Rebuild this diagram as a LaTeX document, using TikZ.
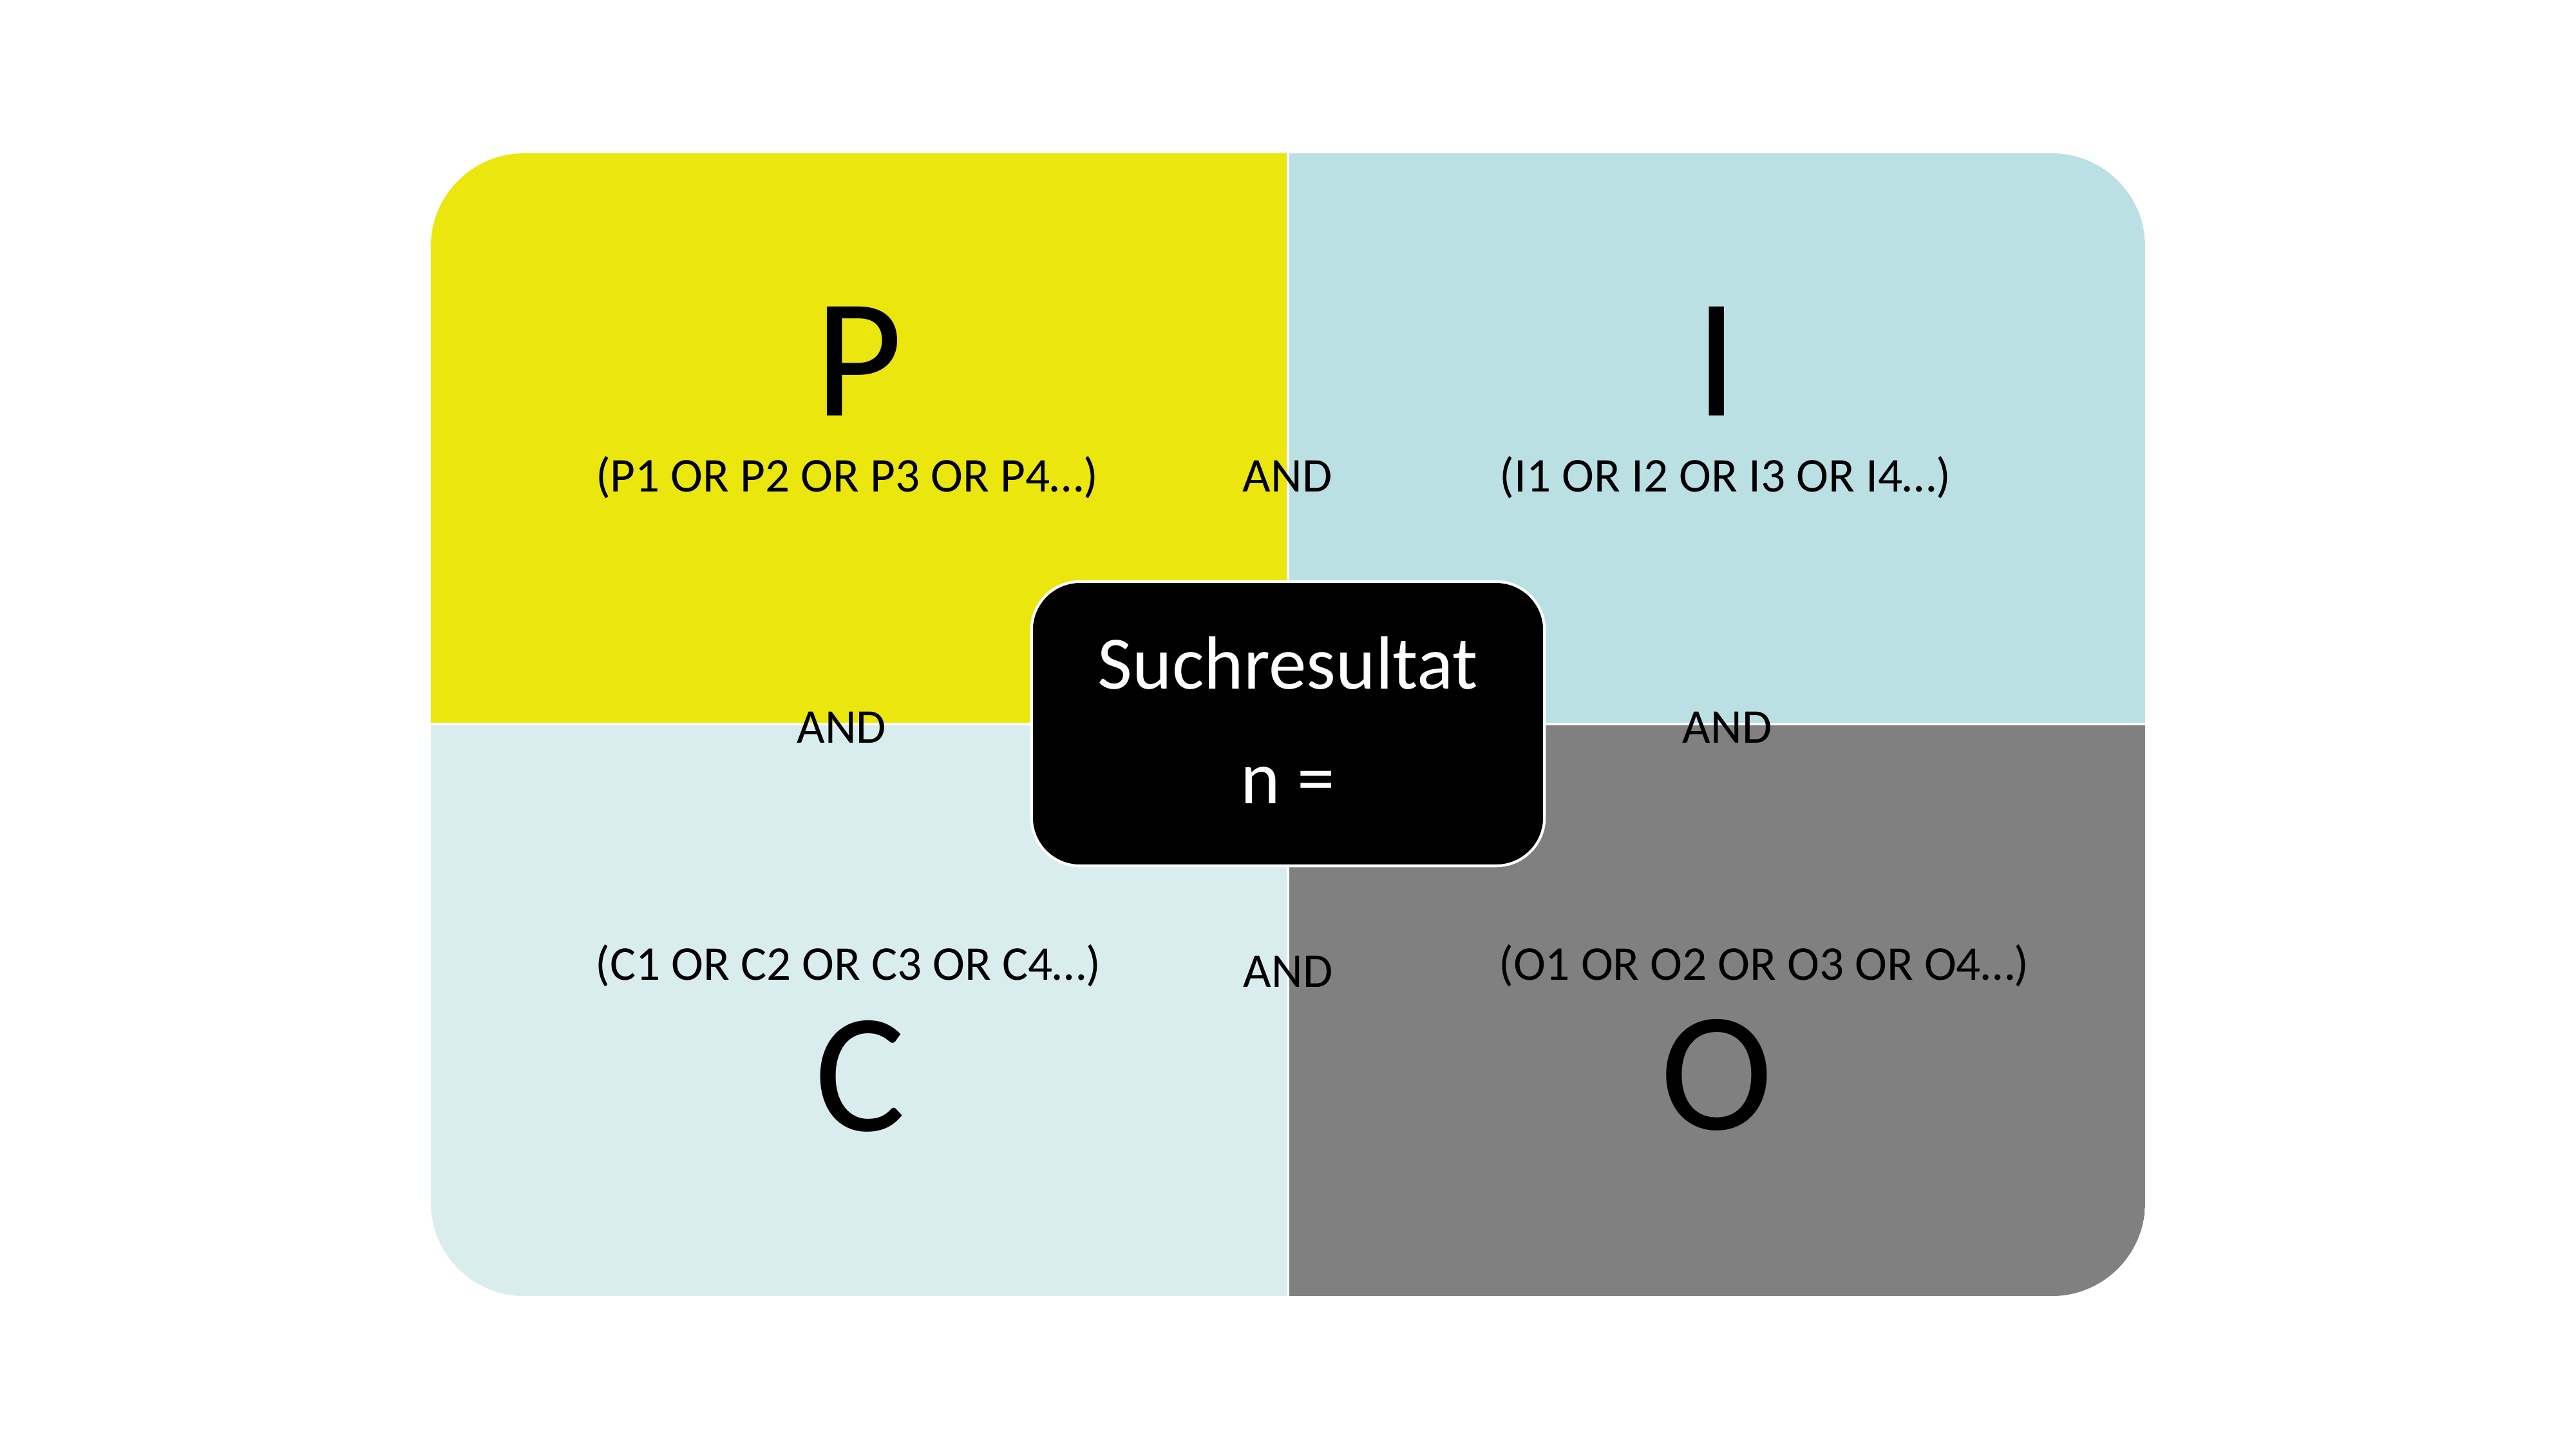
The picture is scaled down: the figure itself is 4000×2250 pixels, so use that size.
\documentclass[tikz,border=0pt]{standalone}
\usepackage{fontspec}
\setmainfont{Carlito}
\definecolor{pyellow}{RGB}{234,230,14}
\definecolor{iblue}{RGB}{186,224,227}
\definecolor{cblue}{RGB}{218,237,238}
\definecolor{ogray}{RGB}{128,128,128}
\tikzset{
  bigletter/.style={anchor=base,inner sep=0pt,font=\fontsize{75}{80}\selectfont},
  ortext/.style={anchor=base,inner sep=0pt,font=\fontsize{21.4}{24}\selectfont},
  restext/.style={anchor=base,inner sep=0pt,text=white,font=\fontsize{33.3}{38}\selectfont},
  divider/.style={white,line width=1.1pt}
}
\begin{document}
\begin{tikzpicture}[x=0.01cm,y=-0.01cm]
\useasboundingbox[fill=white] (0,0) rectangle (4000,2250);
\begin{scope}
  \clip[rounded corners=1.45cm] (669,238) rectangle (3331,2012);
  \fill[pyellow] (669,238) rectangle (2000,1124);
  \fill[iblue] (2000,238) rectangle (3331,1124);
  \fill[cblue] (669,1124) rectangle (2000,2012);
  \fill[ogray] (2000,1124) rectangle (3331,2012);
\end{scope}
\coordinate (vtop) at (2000,238);
\coordinate (vbot) at (2000,2012);
\coordinate (hleft) at (669,1124);
\coordinate (hright) at (3331,1124);
\draw[divider] (vtop) -- (vbot);
\draw[divider] (hleft) -- (hright);

\node[bigletter] (P) at (1334,645) {P};
\node[bigletter] (I) at (2666,645) {I};
\node[bigletter] (C) at (1336,1755) {C};
\node[bigletter] (O) at (2666,1753) {O};

\node[ortext] (Pt) at (1315,763) {(P1 OR P2 OR P3 OR P4…)};
\node[ortext] (It) at (2679,763) {(I1 OR I2 OR I3 OR I4…)};
\node[ortext] (Ct) at (1317,1521) {(C1 OR C2 OR C3 OR C4…)};
\node[ortext] (Ot) at (2739,1521) {(O1 OR O2 OR O3 OR O4…)};

\node[ortext] (and1) at (1999,763) {AND};
\node[ortext] (and2) at (1307,1153) {AND};
\node[ortext] (and3) at (2682,1153) {AND};
\node[ortext] (and4) at (2000,1532) {AND};

\node[draw=white,fill=black,line width=1.2pt,rounded corners=0.75cm,
      minimum width=7.96cm,minimum height=4.41cm,inner sep=0pt] (box) at (2000,1123.5) {};
\node[restext] (res) at (2000,1069) {Suchresultat};
\node[restext] (n) at (2000,1247) {n =};
\end{tikzpicture}
\end{document}
